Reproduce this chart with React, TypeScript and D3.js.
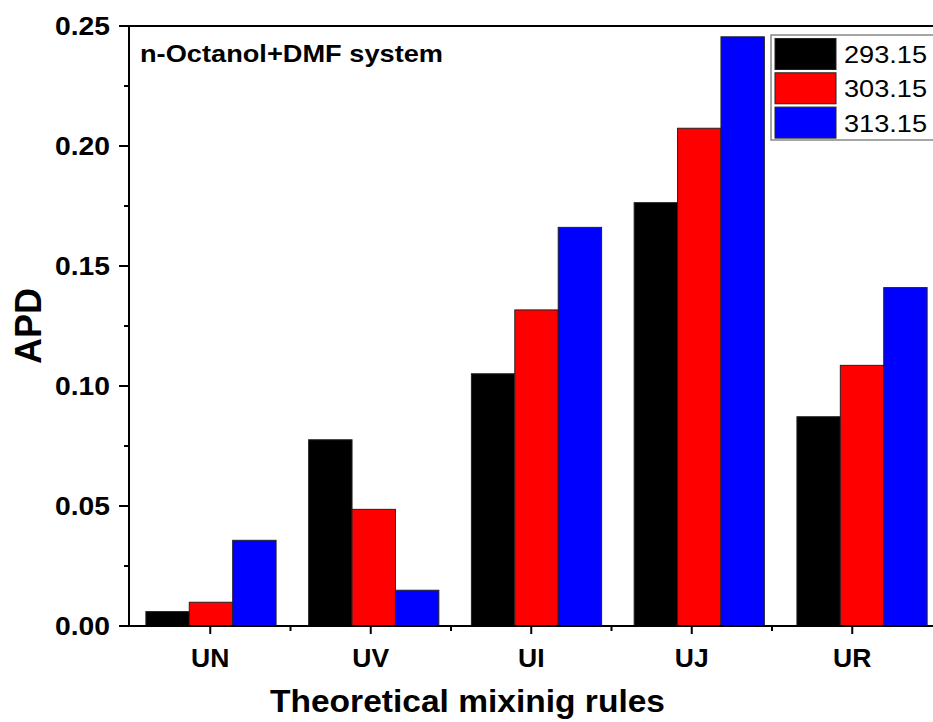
import React from "react";
import * as d3 from "d3";

// categories and series
const categories = ["UN", "UV", "UI", "UJ", "UR"];
const seriesNames = ["293.15", "303.15", "313.15"];
const seriesColors = ["#000000", "#ff0000", "#0000ff"];
const apd293 = [0.006, 0.0776, 0.1051, 0.1764, 0.0872];
const apd303 = [0.0099, 0.0486, 0.1317, 0.2074, 0.1086];
const apd313 = [0.0357, 0.0149, 0.1661, 0.2455, 0.141];
const yTicks = [0, 0.05, 0.1, 0.15, 0.2, 0.25];
const yMinorTicks = [0.025, 0.075, 0.125, 0.175, 0.225];

const W = 933;
const H = 722;

export default function App() {
    const series = [apd293, apd303, apd313];

    // tick positions and bar groups drift slightly apart in the original
    var x = d3.scaleLinear().domain([-0.5, 4.5]).range([130, 932.5]);
    var xBar = d3.scaleLinear().domain([-0.5, 4.5]).range([129.6, 943.4]);
    var y = d3.scaleLinear().domain([0, 0.25]).range([626, 26]);
    var barW = 43.4;

    var font = "Arial, 'Liberation Sans', sans-serif";

    return (
        <svg width={W} height={H} style={{ position: "absolute", left: 0, top: 0, background: "#fff" }}>
            {/* bars */}
            <g>
                {series.map((vals, s) =>
                    vals.map((v, i) => {
                        var x0 = xBar(i) - 1.5 * barW + s * barW;
                        return (
                            <rect key={s + "-" + i} x={x0} y={y(v)} width={barW} height={y(0) - y(v)}
                                fill={seriesColors[s]} stroke="#222" strokeWidth={1} />
                        );
                    })
                )}
            </g>

            {/* frame */}
            <line x1={129} x2={W} y1={y(0.25)} y2={y(0.25)} stroke="#000" strokeWidth={2} />
            <line x1={129} x2={129} y1={y(0.25) - 1} y2={y(0) + 1} stroke="#000" strokeWidth={2} />
            <line x1={128} x2={W} y1={y(0)} y2={y(0)} stroke="#000" strokeWidth={2} />

            {/* y ticks */}
            {yTicks.map((t) => (
                <g key={"y" + t}>
                    <line x1={119} x2={129} y1={y(t)} y2={y(t)} stroke="#000" strokeWidth={2} />
                    <text x={110} y={y(t) + 8.5} textAnchor="end" fontFamily={font} fontWeight="bold"
                        fontSize={25} textLength={55} lengthAdjust="spacingAndGlyphs">{t.toFixed(2)}</text>
                </g>
            ))}
            {yMinorTicks.map((t) => (
                <line key={"ym" + t} x1={124} x2={129} y1={y(t)} y2={y(t)} stroke="#000" strokeWidth={2} />
            ))}

            {/* x ticks */}
            {categories.map((c, i) => (
                <g key={c}>
                    <line x1={x(i)} x2={x(i)} y1={y(0)} y2={y(0) + 8} stroke="#000" strokeWidth={2} />
                    <text x={x(i)} y={667} textAnchor="middle" fontFamily={font} fontWeight="bold" fontSize={26.5}>{c}</text>
                </g>
            ))}
            {categories.slice(0, 4).map((c, i) => (
                <line key={"xm" + c} x1={x(i + 0.5)} x2={x(i + 0.5)} y1={y(0)} y2={y(0) + 5} stroke="#000" strokeWidth={2} />
            ))}

            {/* axis titles */}
            <text x={270} y={712} fontFamily={font} fontWeight="bold" fontSize={32}
                textLength={395} lengthAdjust="spacingAndGlyphs">Theoretical mixinig rules</text>
            <text transform="translate(41,326) rotate(-90)" textAnchor="middle" fontFamily={font}
                fontWeight="bold" fontSize={36}>APD</text>

            {/* annotation */}
            <text x={140} y={62} fontFamily={font} fontWeight="bold" fontSize={24}
                textLength={303} lengthAdjust="spacingAndGlyphs">n-Octanol+DMF system</text>

            {/* legend */}
            <rect x={771} y={35} width={180} height={105} fill="#fff" stroke="#888" strokeWidth={1.5} />
            {seriesNames.map((n, s) => (
                <g key={n}>
                    <rect x={775} y={38.5 + s * 34.3} width={61} height={31} fill={seriesColors[s]} stroke="#222" strokeWidth={1} />
                    <text x={844} y={63 + s * 34.3} fontFamily={font} fontSize={24}
                        textLength={83} lengthAdjust="spacingAndGlyphs">{n}</text>
                </g>
            ))}
        </svg>
    );
}
